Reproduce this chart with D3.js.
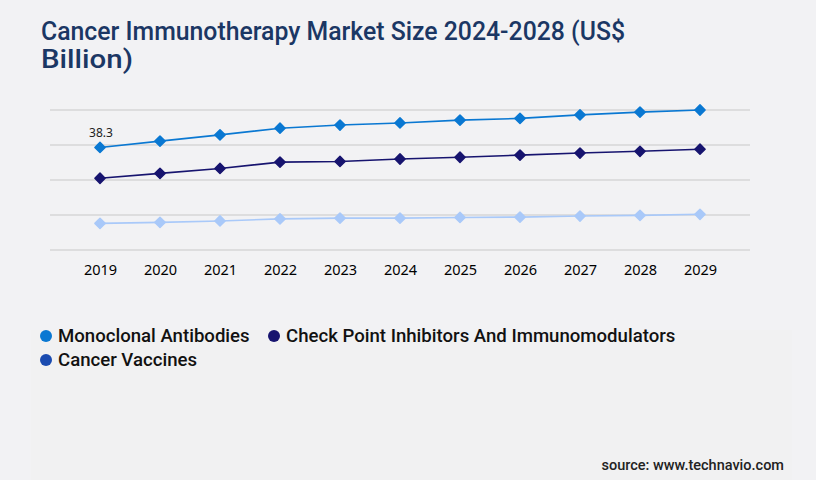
<html>
<head>
<script src="https://d3js.org/d3.v7.min.js"></script>
<style>
  body { margin: 0; background: #f2f2f4; }
</style>
</head>
<body>
<script>
  const width = 816;
  const height = 480;

  // data
  const years = ["2019", "2020", "2021", "2022", "2023", "2024", "2025", "2026", "2027", "2028", "2029"];
  const monoclonal = [39.3, 41.1, 42.9, 44.8, 45.7, 46.3, 47.1, 47.6, 48.6, 49.4, 50.0];
  const checkpoint = [30.5, 31.9, 33.3, 35.1, 35.3, 36.0, 36.5, 37.1, 37.7, 38.2, 38.8];
  const vaccines = [17.6, 17.9, 18.3, 18.9, 19.1, 19.1, 19.3, 19.4, 19.7, 19.9, 20.2];
  const gridValues = [10, 20, 30, 40, 50];
  const seriesNames = ["Monoclonal Antibodies", "Check Point Inhibitors And Immunomodulators", "Cancer Vaccines"];
  const firstLabel = "38.3";

  const lineColors = ["#0a78d2", "#17146f", "#a9c9f9"];
  const legendColors = ["#0a78d2", "#17146f", "#1a4bb0"];

  const svg = d3.select("body")
    .append("svg")
    .attr("width", width)
    .attr("height", height);

  svg.append("rect")
    .attr("width", width).attr("height", height)
    .attr("fill", "#f2f2f4");

  // lighter panel behind the legend
  svg.append("rect")
    .attr("x", 31).attr("y", 330)
    .attr("width", 761).attr("height", 150)
    .attr("fill", "#f1f1f2");

  // title
  const title = svg.append("text")
    .attr("x", 41)
    .attr("fill", "#1b3764")
    .style("font-family", "Roboto")
    .style("font-weight", "500")
    .style("font-size", "26px");
  title.append("tspan").attr("x", 41).attr("y", 40)
    .attr("textLength", 584).attr("lengthAdjust", "spacingAndGlyphs")
    .text("Cancer Immunotherapy Market Size 2024-2028 (US$");
  title.append("tspan").attr("x", 41).attr("y", 68)
    .attr("textLength", 92).attr("lengthAdjust", "spacingAndGlyphs")
    .text("Billion)");

  // scales
  const x = d3.scalePoint().domain(years).range([100, 700]);
  const y = d3.scaleLinear().domain([10, 50]).range([250, 110]);

  // gridlines
  svg.append("g")
    .selectAll("line")
    .data(gridValues)
    .join("line")
    .attr("x1", 50).attr("x2", 750)
    .attr("y1", d => y(d)).attr("y2", d => y(d))
    .attr("stroke", "#c8c8c8")
    .attr("stroke-width", 1);

  // x axis labels
  const xAxis = svg.append("g")
    .attr("transform", "translate(0,250)")
    .call(d3.axisBottom(x).tickSize(0).tickPadding(15));
  xAxis.select(".domain").remove();
  xAxis.selectAll("text")
    .attr("fill", "#000")
    .style("font-family", "Noto Sans")
    .style("font-size", "14.5px");

  // lines and markers
  const allSeries = [monoclonal, checkpoint, vaccines];
  const line = d3.line()
    .x((d, i) => x(years[i]))
    .y(d => y(d));
  const marker = d3.symbol().type(d3.symbolSquare).size(52);

  // draw vaccines first, monoclonal on top
  [2, 1, 0].forEach(k => {
    svg.append("path")
      .attr("d", line(allSeries[k]))
      .attr("fill", "none")
      .attr("stroke", lineColors[k])
      .attr("stroke-width", 1.6);

    svg.append("g")
      .selectAll("path")
      .data(allSeries[k])
      .join("path")
      .attr("d", marker)
      .attr("transform", (d, i) => `translate(${x(years[i])},${y(d)}) rotate(45)`)
      .attr("fill", lineColors[k])
      .attr("stroke", lineColors[k])
      .attr("stroke-width", 1.5)
      .attr("stroke-linejoin", "round");
  });

  // data label on the first point
  svg.append("text")
    .attr("x", x(years[0]) + 1)
    .attr("y", y(monoclonal[0]) - 10)
    .attr("text-anchor", "middle")
    .attr("fill", "#222")
    .style("font-family", "Noto Sans")
    .style("font-size", "12px")
    .text(firstLabel);

  // legend
  const legendPos = [[46, 336], [274, 336], [46, 360]];
  const legend = svg.append("g")
    .selectAll("g")
    .data(seriesNames)
    .join("g")
    .attr("transform", (d, i) => `translate(${legendPos[i][0]},${legendPos[i][1]})`);
  legend.append("circle")
    .attr("r", 6)
    .attr("fill", (d, i) => legendColors[i]);
  legend.append("text")
    .attr("x", 12)
    .attr("y", 6)
    .attr("fill", "#111")
    .style("font-family", "Roboto")
    .style("font-weight", "500")
    .style("font-size", "18.6px")
    .text(d => d);

  // source
  svg.append("text")
    .attr("x", 784)
    .attr("y", 470)
    .attr("text-anchor", "end")
    .attr("fill", "#222")
    .style("font-family", "Roboto")
    .style("font-weight", "500")
    .style("font-size", "14.5px")
    .text("source: www.technavio.com");
</script>
</body>
</html>
